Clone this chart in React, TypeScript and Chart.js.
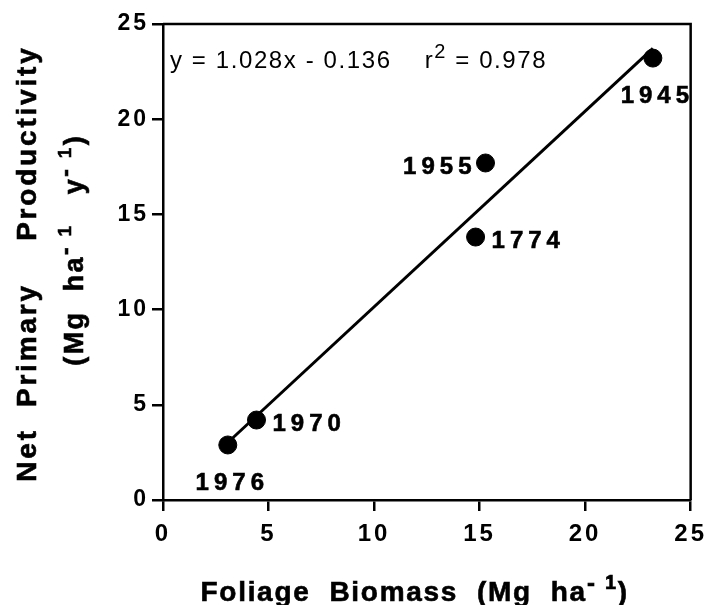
import React, { useEffect, useRef } from "react";
import { Chart, registerables } from "chart.js";

Chart.register(...registerables);

// ---- data ----
const years = ["1976", "1970", "1774", "1955", "1945"];
const foliageBiomass = [3.07, 4.43, 14.81, 15.28, 23.21];
const netProductivity = [2.89, 4.2, 13.81, 17.7, 23.21];
const labelPlacement = ["below", "right", "right", "left", "below"];
const slope = 1.028;
const intercept = -0.136;
const rSquared = 0.978;
const xTicks = [0, 5, 10, 15, 20, 25];
const yTicks = [0, 5, 10, 15, 20, 25];

const FAMILY = '"Liberation Sans", Arial, Helvetica, sans-serif';

type Seg = { text: string; size: number; weight?: string; dy?: number };

function richWidth(ctx: CanvasRenderingContext2D, segs: Seg[], spacing: number) {
  ctx.letterSpacing = spacing + "px";
  const ws: number[] = [];
  let total = 0;
  for (const s of segs) {
    ctx.font = `${s.weight || "normal"} ${s.size}px ${FAMILY}`;
    const w = ctx.measureText(s.text).width;
    ws.push(w);
    total += w;
  }
  return { ws, total: total - spacing };
}

function drawRich(
  ctx: CanvasRenderingContext2D,
  segs: Seg[],
  x: number,
  y: number,
  spacing: number,
  align: "left" | "center" = "center",
  stroke = 0
) {
  const { ws, total } = richWidth(ctx, segs, spacing);
  ctx.textAlign = "left";
  ctx.textBaseline = "alphabetic";
  ctx.lineWidth = stroke;
  ctx.strokeStyle = "#000";
  let cx = align === "center" ? x - total / 2 : x;
  segs.forEach((s, i) => {
    ctx.font = `${s.weight || "normal"} ${s.size}px ${FAMILY}`;
    ctx.fillText(s.text, cx, y + (s.dy || 0));
    if (stroke > 0) ctx.strokeText(s.text, cx, y + (s.dy || 0));
    cx += ws[i];
  });
}

const decorPlugin = {
  id: "decor",
  beforeDraw(chart: any) {
    chart.ctx.letterSpacing = "3px";
  },
  afterDraw(chart: any) {
    const ctx: CanvasRenderingContext2D = chart.ctx;
    const { left, right, top, bottom } = chart.chartArea;
    ctx.save();
    // frame top and right
    ctx.strokeStyle = "#000";
    ctx.lineWidth = 2.5;
    ctx.beginPath();
    ctx.moveTo(left, top);
    ctx.lineTo(right, top);
    ctx.lineTo(right, bottom);
    ctx.stroke();

    ctx.fillStyle = "#000";
    // point labels
    const meta = chart.getDatasetMeta(1);
    const labelSpacing = 5;
    meta.data.forEach((pt: any, i: number) => {
      const place = labelPlacement[i];
      const segs: Seg[] = [{ text: years[i], size: 24, weight: "bold" }];
      const { total } = richWidth(ctx, segs, labelSpacing);
      if (place === "below") {
        drawRich(ctx, segs, pt.x + 2, pt.y + 45, labelSpacing, "center", 0.6);
      } else if (place === "right") {
        drawRich(ctx, segs, pt.x + 16, pt.y + 11, labelSpacing, "left", 0.6);
      } else {
        drawRich(ctx, segs, pt.x - 14 - total, pt.y + 11, labelSpacing, "left", 0.6);
      }
    });

    // equation
    drawRich(
      ctx,
      [
        { text: `y = ${slope.toFixed(3)}x - ${Math.abs(intercept).toFixed(3)}    r`, size: 24 },
        { text: "2", size: 20, dy: -10 },
        { text: ` = ${rSquared.toFixed(3)}`, size: 24 },
      ],
      left + 7,
      top + 44,
      1.6,
      "left"
    );

    // x title
    drawRich(
      ctx,
      [
        { text: "Foliage  Biomass  (Mg  ha", size: 28, weight: "bold" },
        { text: "- ", size: 24, weight: "bold", dy: -10 },
        { text: "1", size: 20, weight: "bold", dy: -12 },
        { text: ")", size: 28, weight: "bold" },
      ],
      (left + right) / 2 - 13,
      601,
      1.7,
      "center",
      0.6
    );

    // y title, two lines rotated
    ctx.save();
    ctx.translate(36, 265);
    ctx.rotate(-Math.PI / 2);
    drawRich(
      ctx,
      [{ text: "Net  Primary    Productivity", size: 28, weight: "bold" }],
      0,
      0,
      2.8,
      "center",
      0.6
    );
    ctx.restore();
    ctx.save();
    ctx.translate(83, 251);
    ctx.rotate(-Math.PI / 2);
    drawRich(
      ctx,
      [
        { text: "(Mg  ha", size: 27, weight: "bold" },
        { text: "- ", size: 23, weight: "bold", dy: -10 },
        { text: "1", size: 19, weight: "bold", dy: -12 },
        { text: "   y", size: 27, weight: "bold" },
        { text: "- ", size: 23, weight: "bold", dy: -10 },
        { text: "1", size: 19, weight: "bold", dy: -12 },
        { text: ")", size: 27, weight: "bold" },
      ],
      0,
      0,
      2.3,
      "center",
      0.6
    );
    ctx.restore();
    ctx.restore();
  },
};

export default function App() {
  const ref = useRef<HTMLCanvasElement | null>(null);
  useEffect(() => {
    if (!ref.current) return;
    const xs = foliageBiomass;
    const xLo = Math.min(...xs);
    const xHi = Math.max(...xs);
    const fitLine = [
      { x: xLo, y: slope * xLo + intercept },
      { x: xHi, y: slope * xHi + intercept },
    ];
    const points = xs.map((x, i) => ({ x, y: netProductivity[i] }));
    const chart = new Chart(ref.current, {
      type: "scatter",
      data: {
        datasets: [
          {
            label: "fit",
            data: fitLine,
            showLine: true,
            borderColor: "#000",
            borderWidth: 3,
            pointRadius: 0,
          },
          {
            label: "stands",
            data: points,
            backgroundColor: "#000",
            borderColor: "#000",
            pointRadius: 9,
            pointHoverRadius: 9,
          },
        ],
      },
      options: {
        animation: false,
        responsive: true,
        maintainAspectRatio: false,
        events: [],
        layout: { padding: { top: 24, right: 20, left: 0, bottom: 0 } },
        plugins: { legend: { display: false }, tooltip: { enabled: false } },
        scales: {
          x: {
            type: "linear",
            min: xTicks[0],
            max: xTicks[xTicks.length - 1],
            afterBuildTicks: (s: any) => {
              s.ticks = xTicks.map((v) => ({ value: v }));
            },
            afterFit: (s: any) => {
              s.height = 105;
            },
            grid: {
              drawOnChartArea: false,
              drawTicks: true,
              tickLength: 11,
              color: "#000",
              lineWidth: 2.5,
            },
            border: { display: true, color: "#000", width: 2.5 },
            ticks: {
              color: "#000",
              font: { family: FAMILY, size: 24, weight: "bold" },
              padding: 9,
              maxRotation: 0,
            },
          },
          y: {
            type: "linear",
            min: yTicks[0],
            max: yTicks[yTicks.length - 1],
            afterBuildTicks: (s: any) => {
              s.ticks = yTicks.map((v) => ({ value: v }));
            },
            afterFit: (s: any) => {
              s.width = 163;
            },
            grid: {
              drawOnChartArea: false,
              drawTicks: true,
              tickLength: 11,
              color: "#000",
              lineWidth: 2.5,
            },
            border: { display: true, color: "#000", width: 2.5 },
            ticks: {
              color: "#000",
              font: { family: FAMILY, size: 23, weight: "bold" },
              padding: 3,
            },
          },
        },
      },
      plugins: [decorPlugin],
    });
    return () => chart.destroy();
  }, []);
  return (
    <div style={{ position: "absolute", left: 0, top: 0, width: 713, height: 605, background: "#fff" }}>
      <canvas ref={ref} />
    </div>
  );
}
